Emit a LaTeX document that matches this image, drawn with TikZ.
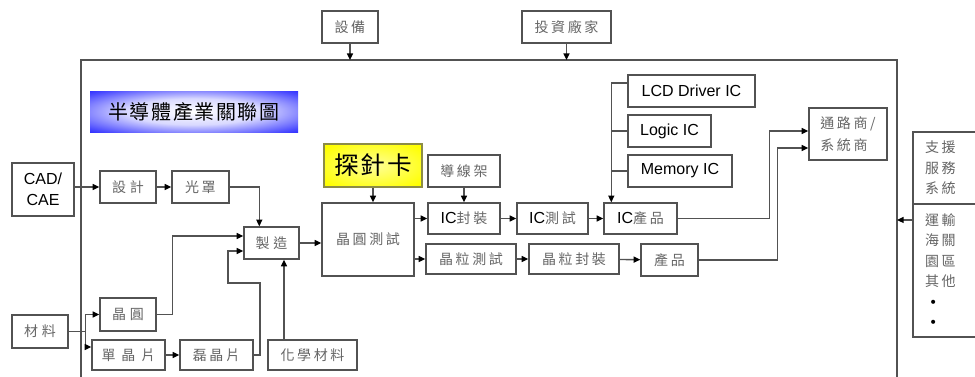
\documentclass[tikz,border=0pt]{standalone}
\usepackage{fontspec}
\setmainfont{Liberation Sans}
\newfontfamily\cjk[LetterSpace=18]{Noto Sans CJK TC}
\newfontfamily\cjkt[LetterSpace=8]{Noto Sans CJK TC}
\newfontfamily\dejavu{DejaVu Sans}
\usetikzlibrary{arrows.meta,calc}
\definecolor{lc}{gray}{0.32}
\definecolor{tc}{gray}{0.40}
\definecolor{olivebd}{RGB}{140,140,70}
\pgfdeclareradialshading{titleshade}{\pgfpoint{0bp}{0bp}}{color(0bp)=(white); color(16bp)=(white!85!blue); color(32bp)=(blue!70!white); color(42bp)=(blue); color(100bp)=(blue)}
\pgfdeclareradialshading{yelshade}{\pgfpoint{0bp}{0bp}}{color(0bp)=(yellow!40!white); color(32bp)=(yellow); color(100bp)=(yellow)}
\newcommand\ic{{\rmfamily\color{black}\fontsize{12}{14}\selectfont IC}}
\newcommand\bx[7][]{\node[box,minimum width={(#5-#3)*0.75pt},minimum height={(#6-#4)*0.75pt},#1] (#2) at ({(#3+#5)/2},{(#4+#6)/2}) {#7};}
\begin{document}
\begin{tikzpicture}[x=0.75pt,y=-0.75pt,
 box/.style={draw=lc,line width=1.05pt,inner sep=0pt,font=\cjk\fontsize{10.5}{12}\selectfont,text=tc},
 ln/.style={draw=lc,line width=1.05pt},
 arr/.style={ln,-{Triangle[length=5pt,width=4.5pt,color=black]}},
 en/.style={font=\rmfamily\fontsize{12}{15.75}\selectfont,text=black}]
\useasboundingbox (0,0) rectangle (975,376);
\fill[white] (0,0) rectangle (975,376);
\clip (0,0) rectangle (975,376);
% frame
\coordinate (ftl) at (81,60);
\coordinate (ftr) at (897,60);
\coordinate (fbl) at (81,385);
\coordinate (fbr) at (897,385);
\draw[ln] (fbl) -- (ftl) -- (ftr) -- (fbr);
% boxes
\bx{sb}{322}{11}{378}{43}{設備}
\bx{tz}{522}{11}{611}{43}{投資廠家}
\bx[draw=none,shading=titleshade,text=black,font=\cjkt\fontsize{15}{18}\selectfont]{title}{90}{91}{298}{132}{半導體產業關聯圖}
\bx[en,align=center]{cad}{12}{163}{74}{216}{CAD/\\CAE}
\bx{sj}{100}{171}{156}{203}{設\hspace{3pt}計}
\bx{gz}{172}{171}{229}{203}{光罩}
\bx{zz}{244}{227}{299}{259}{製\hspace{3pt}造}
\bx{jy}{100}{298}{156}{331}{晶\hspace{3pt}圓}
\bx{cl}{12}{315}{68}{348}{材\hspace{3pt}料}
\bx{dj}{92}{340}{165}{370}{單\hspace{4.5pt}晶\hspace{4.5pt}片}
\bx{lj}{180}{340}{253}{370}{磊晶片}
\bx{hx}{268}{340}{357}{370}{化學材料}
\bx{jc}{322}{203}{414}{276}{晶圓測試}
\bx[draw=olivebd,shading=yelshade,text=black,font=\cjkt\fontsize{18.5}{20}\selectfont]{tzk}{324}{144}{422}{187}{探針卡}
\bx{dx}{428}{155}{500}{187}{導線架}
\bx{icf}{428}{203}{500}{234}{\ic 封裝}
\bx{ict}{517}{203}{588}{234}{\ic 測試}
\bx{icp}{604}{203}{677}{234}{\ic 產品}
\bx{jlc}{426}{244}{516}{274}{晶粒測試}
\bx{jlf}{529}{244}{619}{274}{晶粒封裝}
\bx{cp}{641}{244}{698}{276}{產品}
\bx[en]{lcd}{628}{75}{755}{107}{LCD Driver IC}
\bx[en]{logic}{628}{115}{711}{147}{Logic IC}
\bx[en]{mem}{628}{155}{732}{187}{Memory IC}
\bx[align=left,font=\cjk\fontsize{10.5}{16.5}\selectfont]{tl}{809}{108}{887}{160}{通路商/\\系統商}
\bx[align=left,text width=45pt,inner xsep=9pt,font=\cjk\fontsize{10.5}{15.4}\selectfont]{rb1}{913}{132}{997}{204}{支援\\服務\\系統}
\bx[align=left,text width=45pt,inner xsep=9pt,font=\cjk\fontsize{10.5}{15.4}\selectfont]{rb2}{913}{204}{997}{337}{運輸\\海關\\園區\\其他\\\hspace*{3pt}{\dejavu\color{black}•}\\\hspace*{3pt}{\dejavu\color{black}•}}
% connectors
\draw[arr] (sb) -- (sb |- ftl);
\draw[arr] (tz) -- (tz |- ftl);
\draw[arr] (cad.east |- sj.west) -- (sj.west);
\draw[arr] (sj) -- (gz);
\draw[arr] (gz.east) -| ([xshift=12pt]zz.north west);
\draw[arr] (jy.east) -- ++(16,0) |- ([yshift=5.25pt]zz.west);
\draw[arr] (lj.east) -| (260,283) -| (228,251) -- ([yshift=-6pt]zz.west);
\draw[arr] (hx.north -| 284,0) -- (zz.south -| 284,0);
\draw[ln] (cl.east) -- ++(17,0) coordinate (cb);
\draw[arr] (cb) |- (jy.west);
\draw[arr] (cb) |- ([yshift=6pt]dj.west);
\draw[arr] (dj) -- (lj);
\draw[arr] (zz.east) -- (zz.east -| jc.west);
\draw[arr] (tzk.south) -- (tzk.south |- jc.north);
\draw[arr] (dx) -- (icf);
\draw[arr] (jc.east |- icf.west) -- (icf.west);
\draw[arr] (jc.east |- jlc.west) -- (jlc.west);
\draw[arr] (icf) -- (ict);
\draw[arr] (ict) -- (icp);
\draw[arr] (jlc) -- (jlf);
\draw[arr] (jlf) -- (cp);
\draw[ln] ([yshift=6pt]lcd.west) -- ++(-16,0) coordinate (vt);
\draw[arr] (vt) -- (vt |- icp.north);
\draw[ln] (logic.west) -- (logic.west -| vt);
\draw[ln] (mem.west) -- (mem.west -| vt);
\draw[arr] (icp.east) -- ++(92,0) |- ([yshift=2.25pt]tl.west);
\draw[arr] (cp.east) -- ++(79,0) |- ([yshift=-10.5pt]tl.west);
\draw[arr] ([yshift=37.9pt]rb2.west) -- ([yshift=37.9pt]rb2.west -| ftr);
\end{tikzpicture}
\end{document}
